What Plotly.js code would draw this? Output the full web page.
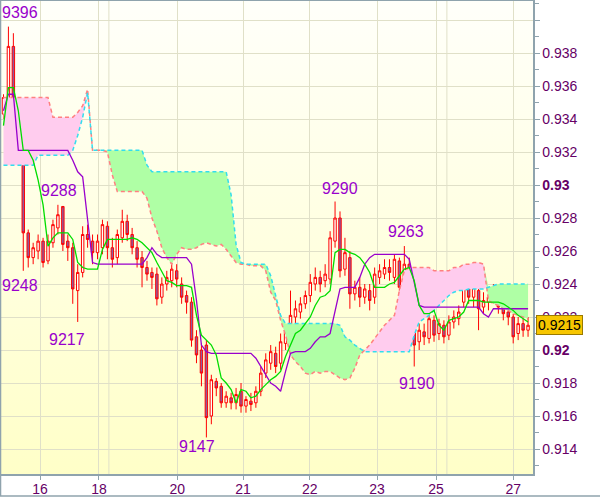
<!DOCTYPE html>
<html><head><meta charset="utf-8">
<script src="https://cdn.plot.ly/plotly-3.0.1.min.js"></script>
<style>html,body{margin:0;padding:0;background:#fff}#chart{width:600px;height:497px}</style>
</head><body><div id="chart"></div>
<script>
// ---- OHLC (one bar each) ----
const opens = [
.9343,.9350,.9384,.9345,.9337,.9271,.9256,.9260,.9266,.9254,
.9265,.9274,.9287,.9266,.9262,.9236,.9247,.9270,.9266,.9259,
.9262,.9275,.9262,.9256,.9268,.9278,.9270,.9262,.9256,.9250,
.9247,.9246,.9232,.9240,.9242,.9248,.9240,.9233,.9229,.9208,
.9200,.9203,.9160,.9181,.9178,.9168,.9171,.9168,.9175,.9166,
.9169,.9168,.9175,.9186,.9192,.9198,.9192,.9204,.9210,.9220,
.9223,.9228,.9233,.9240,.9244,.9242,.9243,.9266,.9280,.9249,
.9256,.9234,.9238,.9232,.9236,.9232,.9244,.9246,.9250,.9244,
.9254,.9243,.9252,.9245,.9205,.9211,.9207,.9218,.9210,.9215,
.9209,.9217,.9219,.9229,.9239,.9232,.9236,.9226,.9229,.9231,
.9233,.9227,.9223,.9220,.9210,.9216,.9212];
const highs = [
.9355,.9396,.9392,.9348,.9340,.9273,.9265,.9270,.9268,.9270,
.9279,.9288,.9286,.9270,.9265,.9252,.9275,.9276,.9270,.9270,
.9279,.9278,.9268,.9273,.9285,.9282,.9274,.9266,.9260,.9254,
.9250,.9250,.9244,.9248,.9252,.9252,.9244,.9236,.9232,.9212,
.9204,.9206,.9185,.9183,.9180,.9175,.9174,.9177,.9180,.9172,
.9174,.9178,.9190,.9198,.9203,.9202,.9210,.9215,.9236,.9230,
.9232,.9236,.9246,.9250,.9248,.9252,.9272,.9290,.9284,.9268,
.9260,.9242,.9244,.9240,.9240,.9250,.9252,.9255,.9255,.9258,
.9256,.9263,.9256,.9248,.9216,.9216,.9222,.9221,.9219,.9218,
.9221,.9224,.9227,.9243,.9245,.9242,.9247,.9235,.9238,.9240,
.9237,.9230,.9226,.9222,.9220,.9219,.9220];
const lows = [
.9340,.9347,.9338,.9326,.9248,.9250,.9252,.9255,.9250,.9252,
.9262,.9270,.9260,.9254,.9228,.9217,.9244,.9262,.9252,.9255,
.9258,.9255,.9250,.9252,.9265,.9266,.9258,.9250,.9238,.9242,
.9237,.9227,.9228,.9236,.9238,.9238,.9228,.9222,.9202,.9192,
.9178,.9147,.9155,.9172,.9165,.9165,.9164,.9164,.9162,.9162,
.9163,.9165,.9172,.9183,.9188,.9186,.9188,.9200,.9206,.9215,
.9219,.9225,.9229,.9236,.9235,.9238,.9240,.9262,.9244,.9245,
.9225,.9230,.9226,.9228,.9224,.9228,.9240,.9243,.9242,.9240,
.9234,.9240,.9238,.9190,.9200,.9203,.9204,.9205,.9206,.9204,
.9206,.9213,.9215,.9226,.9228,.9226,.9212,.9222,.9224,.9228,
.9222,.9218,.9215,.9204,.9206,.9208,.9208];
const closes = [
.9353,.9384,.9343,.9333,.9271,.9256,.9262,.9266,.9253,.9266,
.9276,.9282,.9264,.9262,.9237,.9247,.9270,.9267,.9259,.9266,
.9276,.9262,.9255,.9270,.9278,.9270,.9262,.9255,.9250,.9246,
.9244,.9231,.9240,.9244,.9249,.9243,.9232,.9229,.9206,.9197,
.9186,.9159,.9182,.9177,.9168,.9172,.9168,.9173,.9166,.9170,
.9167,.9175,.9186,.9194,.9199,.9190,.9205,.9211,.9221,.9225,
.9228,.9233,.9241,.9244,.9240,.9246,.9268,.9280,.9248,.9259,
.9234,.9238,.9232,.9237,.9230,.9246,.9248,.9250,.9247,.9255,
.9238,.9252,.9242,.9203,.9212,.9208,.9219,.9209,.9216,.9208,
.9217,.9220,.9223,.9241,.9232,.9238,.9225,.9230,.9232,.9235,
.9226,.9222,.9220,.9208,.9216,.9212,.9215];

// ---- Ichimoku lines ----
const tenkan = [
.9336,.9359,.9359,.9345,.9321,.9321,.9315,.9303,.9288,.9263,
.9268,.9271,.9271,.9271,.9267,.9253,.9250,.9249,.9249,.9249,
.9261,.9267,.9267,.9267,.9267,.9267,.9268,.9267,.9265,.9262,
.9259,.9253,.9247,.9242,.9241,.9239,.9239,.9239,.9238,.9221,
.9209,.9206,.9203,.9197,.9183,.9180,.9176,.9168,.9176,.9175,
.9171,.9172,.9176,.9179,.9182,.9184,.9187,.9196,.9203,.9210,
.9212,.9216,.9220,.9227,.9232,.9233,.9236,.9259,.9261,.9261,
.9259,.9258,.9256,.9252,.9247,.9238,.9238,.9238,.9240,.9241,
.9245,.9249,.9250,.9242,.9227,.9222,.9222,.9224,.9215,.9212,
.9218,.9219,.9220,.9223,.9230,.9230,.9230,.9229,.9229,.9229,
.9229,.9228,.9226,.9224,.9221,.9219,.9217];
const kijun = [
.9345,.9355,.9355,.9321,.9321,.9321,.9321,.9321,.9321,.9321,
.9321,.9321,.9321,.9321,.9315,.9308,.9305,.9280,.9253,.9252,
.9252,.9252,.9252,.9252,.9252,.9252,.9252,.9252,.9252,.9256,
.9262,.9258,.9256,.9256,.9256,.9256,.9256,.9256,.9252,.9230,
.9203,.9199,.9198,.9198,.9198,.9198,.9198,.9198,.9198,.9198,
.9198,.9195,.9190,.9185,.9180,.9178,.9175,.9187,.9198,.9199,
.9199,.9199,.9201,.9205,.9208,.9208,.9210,.9224,.9237,.9238,
.9238,.9238,.9244,.9252,.9256,.9258,.9258,.9258,.9258,.9258,
.9258,.9258,.9255,.9242,.9227,.9226,.9226,.9226,.9226,.9226,
.9226,.9226,.9226,.9226,.9226,.9226,.9226,.9222,.9220,.9225,
.9225,.9225,.9225,.9225,.9225,.9225,.9225];
const spanA = [
.9353,.9353,.9353,.9353,.9353,.9353,.9353,.9353,.9353,.9353,
.9341,.9341,.9341,.9341,.9341,.9344,.9348,.9358,.9321,.9321,
.9321,.9320,.9306,.9296,.9296,.9296,.9296,.9296,.9296,.9292,
.9280,.9272,.9262,.9256,.9252,.9258,.9262,.9261,.9261,.9262,
.9264,.9265,.9264,.9263,.9264,.9261,.9257,.9253,.9252,.9252,
.9251,.9251,.9251,.9248,.9235,.9230,.9218,.9209,.9197,.9193,
.9190,.9186,.9185,.9187,.9186,.9187,.9187,.9185,.9183,.9182,
.9183,.9189,.9197,.9200,.9203,.9207,.9211,.9215,.9218,.9221,
.9236,.9248,.9250,.9250,.9250,.9250,.9250,.9248,.9248,.9248,
.9248,.9250,.9250,.9252,.9252,.9253,.9253,.9252,.9230,.9228,
.9227,.9225,.9224,.9222,.9221,.9220,.9219];
const spanB = [
.9312,.9312,.9312,.9312,.9312,.9312,.9312,.9318,.9318,.9318,
.9318,.9318,.9318,.9318,.9321,.9330,.9341,.9356,.9321,.9321,
.9321,.9321,.9321,.9321,.9321,.9321,.9321,.9321,.9321,.9312,
.9308,.9308,.9308,.9308,.9308,.9308,.9308,.9308,.9308,.9308,
.9308,.9308,.9308,.9308,.9308,.9308,.9294,.9264,.9253,.9252,
.9252,.9252,.9252,.9252,.9245,.9232,.9221,.9216,.9216,.9216,
.9216,.9216,.9216,.9216,.9216,.9216,.9216,.9216,.9215,.9208,
.9206,.9203,.9201,.9199,.9199,.9199,.9199,.9199,.9199,.9199,
.9199,.9199,.9199,.9209,.9217,.9219,.9221,.9224,.9227,.9230,
.9233,.9235,.9236,.9236,.9237,.9237,.9237,.9237,.9238,.9239,
.9240,.9240,.9240,.9240,.9240,.9240,.9240];

// ---- axis labels ----
const dayTicks  = [7.4, 19.3, 35.1, 48.4, 61.9, 75.5, 87.4, 103.0];
const dayLabels = ['16','18','20','21','22','23','25','27'];
const weekStarts = [21.3, 89.6];
const priceTicks  = [0.914,0.916,0.918,0.92,0.922,0.924,0.926,0.928,0.93,0.932,0.934,0.936,0.938,0.94];
const priceLabels = ['0.914','0.916','0.918','<b>0.92</b>','0.922','0.924','0.926','0.928','<b>0.93</b>','0.932','0.934','0.936','0.938',''];
const extremeLabels = ['9396','9288','9248','9217','9147','9290','9263','9190'];
const extremeX = [3.3, 11.2, 3.3, 12.8, 39.1, 68.0, 81.3, 83.6];
const extremeY = [0.94048, 0.92964, 0.92388, 0.92061, 0.91418, 0.92976, 0.92721, 0.91794];
const lastPrice = 0.9215;

const idx = opens.map((_, i) => i);
const cloudTop = spanA.map((a, i) => Math.max(a, spanB[i]));

const svg = '<svg xmlns="http://www.w3.org/2000/svg" width="10" height="100" preserveAspectRatio="none"><defs><linearGradient id="g" x1="0" y1="0" x2="0" y2="1"><stop offset="0" stop-color="#FFFFFA"/><stop offset="1" stop-color="#FFFFC8"/></linearGradient></defs><rect width="10" height="100" fill="url(#g)"/></svg>';
const bgSrc = 'data:image/svg+xml;charset=utf-8,' + encodeURIComponent(svg);

const base = {x: idx, type: 'scatter', mode: 'lines', hoverinfo: 'skip', showlegend: false};
const none = {width: 0, color: 'rgba(0,0,0,0)'};
const traces = [
  Object.assign({}, base, {y: spanB, line: none}),
  Object.assign({}, base, {y: cloudTop, fill: 'tonexty', fillcolor: '#FFCCEE', line: none}),
  Object.assign({}, base, {y: spanA, line: none}),
  Object.assign({}, base, {y: cloudTop, fill: 'tonexty', fillcolor: '#AFFFA5', line: none}),
  Object.assign({}, base, {y: spanA, line: {color: '#FF8080', width: 1.5, dash: '4px,3px'}}),
  Object.assign({}, base, {y: spanB, line: {color: '#33DDEE', width: 1.5, dash: '4px,3px'}}),
  {type: 'candlestick', x: idx, open: opens, high: highs, low: lows, close: closes,
   increasing: {line: {color: '#FF0000', width: 1}, fillcolor: 'rgba(255,255,255,0.85)'},
   decreasing: {line: {color: '#FF0000', width: 1}, fillcolor: '#8E5AA0'},
   whiskerwidth: 0, hoverinfo: 'skip', showlegend: false},
  Object.assign({}, base, {y: kijun, line: {color: '#9900CC', width: 1.3}}),
  Object.assign({}, base, {y: tenkan, line: {color: '#00DD00', width: 1.3}})
];

const axisCol = '#8FA3AD', gridCol = '#E0E0C8';
const shapes = weekStarts.map(w => ({type: 'line', xref: 'x', yref: 'paper', x0: w, x1: w, y0: 0, y1: 1,
  line: {color: gridCol, width: 1}, layer: 'below'}));
shapes.push({type: 'line', xref: 'paper', yref: 'paper', x0: -0.002, x1: 1.13, y0: -0.0465, y1: -0.0465, line: {color: axisCol, width: 1.5}});
shapes.push({type: 'line', xref: 'paper', yref: 'paper', x0: -0.0009, x1: -0.0009, y0: -0.0465, y1: 1, line: {color: axisCol, width: 1.5}});

const annotations = extremeLabels.map((t, i) => ({x: extremeX[i], y: extremeY[i], xref: 'x', yref: 'y', text: t,
  showarrow: false, font: {size: 16, color: '#9900CC'}}));
annotations.push({xref: 'paper', x: 1, xanchor: 'left', xshift: 3, yref: 'y', y: lastPrice, text: lastPrice.toFixed(4),
  showarrow: false, bgcolor: '#F7C600', bordercolor: '#9A7A00', borderwidth: 1, borderpad: 1,
  font: {size: 14, color: '#000000'}});

const layout = {
  width: 600, height: 497,
  margin: {l: 1, r: 67, t: 1, b: 23},
  paper_bgcolor: '#FFFFFF', plot_bgcolor: '#FFFFEE',
  font: {family: 'Liberation Sans, Arial, sans-serif', size: 14, color: '#660066'},
  showlegend: false, hovermode: false,
  xaxis: {range: [-0.5, 107], rangeslider: {visible: false}, tickmode: 'array', tickvals: dayTicks, ticktext: dayLabels,
    showgrid: true, gridcolor: gridCol, gridwidth: 1, ticks: 'outside', ticklen: 4, tickcolor: axisCol,
    ticklabelstandoff: -2,
    showline: true, linecolor: axisCol, linewidth: 1.5, mirror: true, zeroline: false},
  yaxis: {side: 'right', range: [0.912485, 0.941152], tickmode: 'array', tickvals: priceTicks, ticktext: priceLabels,
    showgrid: true, gridcolor: gridCol, gridwidth: 1, ticks: 'outside', ticklen: 5, tickcolor: axisCol,
    showline: true, linecolor: axisCol, linewidth: 1.5, mirror: true, zeroline: false,
    minor: {tickmode: 'linear', tick0: 0.913, dtick: 0.001, ticks: 'outside', ticklen: 4, tickcolor: axisCol, showgrid: false}},
  images: [{source: bgSrc, xref: 'paper', yref: 'paper', x: 0, y: 1, sizex: 1, sizey: 1, sizing: 'stretch',
    xanchor: 'left', yanchor: 'top', layer: 'below'}],
  shapes: shapes,
  annotations: annotations
};

Plotly.newPlot('chart', traces, layout, {displayModeBar: false, staticPlot: true});
</script>
</body></html>
